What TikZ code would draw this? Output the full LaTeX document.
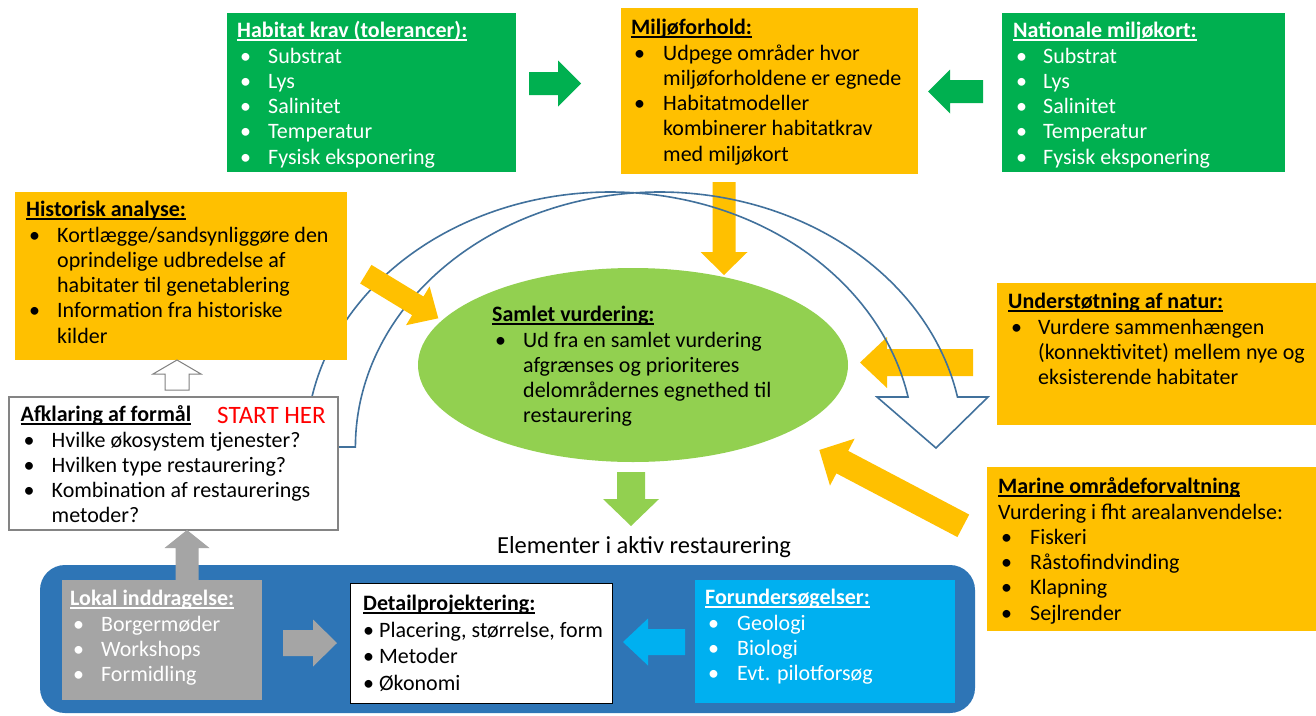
\documentclass[tikz,border=0pt]{standalone}
\usepackage{fontspec}
\setmainfont{Carlito}
\usetikzlibrary{calc,shapes.geometric}
\definecolor{cgreen}{HTML}{00B050}
\definecolor{corange}{HTML}{FFC000}
\definecolor{cellipse}{HTML}{92D050}
\definecolor{clblue}{HTML}{00B0F0}
\definecolor{cgray}{HTML}{A5A5A5}
\definecolor{cblue}{HTML}{2E75B6}
\definecolor{carc}{HTML}{41719C}
\definecolor{cred}{HTML}{FF0000}
\newcommand\hd[1]{\setbox0\hbox{\bfseries #1}\rlap{\rule[-2.8pt]{\wd0}{1.4pt}}\box0}
\newcommand\bi[2][31pt]{\makebox[#1][l]{\hspace{3pt}•}#2}
\newcommand\ct[2][31pt]{\hspace*{#1}#2}
\newcommand\fst{\rule{0pt}{16.5pt}}
% block arrow: name, tail, tip, shaft half width, head half width, head length, style
\newcommand\barrow[7]{%
  \coordinate (#1b) at ($(#3)!#6!(#2)$);
  \path[#7] ($(#2)!#4!90:(#3)$) -- ($(#1b)!#4!90:(#3)$) -- ($(#1b)!#5!90:(#3)$) -- (#3)
    -- ($(#1b)!#5!-90:(#3)$) -- ($(#1b)!#4!-90:(#3)$) -- ($(#2)!#4!-90:(#3)$) -- cycle;}
\tikzset{
  box/.style={anchor=north west, inner sep=0pt, outer sep=0pt},
  txt/.style={anchor=north west, inner sep=0pt, align=left, font=\fontsize{22}{25.3}\selectfont},
  wtxt/.style={txt, text=white},
  arcline/.style={draw=carc, line width=1.6pt, line join=miter},
}
\begin{document}
\begin{tikzpicture}[x=1pt,y=-1pt]
\useasboundingbox (0,0) rectangle (1316,715);
\fill[white] (0,0) rectangle (1316,715);

% ---------- top row ----------
\node[box, fill=cgreen, minimum width=289, minimum height=159] (hab) at (227,13) {};
\node[wtxt] (habt) at (237,21) {\fst\hd{Habitat krav (tolerancer):}\\
\bi{Substrat}\\ \bi{Lys}\\ \bi{Salinitet}\\ \bi{Temperatur}\\ \bi{Fysisk eksponering}};

\node[box, fill=corange, minimum width=297, minimum height=166] (milj) at (621,8) {};
\node[txt] (miljt) at (631,18) {\fst\hd{Miljøforhold:}\\
\bi[32pt]{Udpege områder hvor}\\ \ct[32pt]{miljøforholdene er egnede}\\
\bi[32pt]{Habitatmodeller}\\ \ct[32pt]{kombinerer habitatkrav}\\ \ct[32pt]{med miljøkort}};

\node[box, fill=cgreen, minimum width=283, minimum height=159] (nat) at (1002,13) {};
\node[wtxt] (natt) at (1013,21) {\fst\hd{Nationale miljøkort:}\\
\bi[30pt]{Substrat}\\ \bi[30pt]{Lys}\\ \bi[30pt]{Salinitet}\\ \bi[30pt]{Temperatur}\\ \bi[30pt]{Fysisk eksponering}};

\coordinate (g1t) at (529,83.5); \coordinate (g1h) at (581,83.5);
\barrow{g1}{g1t}{g1h}{11.5pt}{23pt}{23pt}{fill=cgreen}
\coordinate (g2t) at (983,91.5); \coordinate (g2h) at (928,91.5);
\barrow{g2}{g2t}{g2h}{11.5pt}{22pt}{22pt}{fill=cgreen}

% ---------- central ellipse ----------
\node[ellipse, fill=cellipse, minimum width=430, minimum height=194, inner sep=0pt] (samlet) at (633,365) {};
\node[txt] (samlett) at (492,305) {\fst\hd{Samlet vurdering:}\\
\bi{Ud fra en samlet vurdering}\\ \ct{afgrænses og prioriteres}\\ \ct{delområdernes egnethed til}\\ \ct{restaurering}};

% ---------- right boxes ----------
\node[box, fill=corange, minimum width=319, minimum height=142] (und) at (997,283) {};
\node[txt] (undt) at (1008,292) {\fst\hd{Understøtning af natur:}\\
\bi[30pt]{Vurdere sammenhængen}\\ \ct[30pt]{(konnektivitet) mellem nye og}\\ \ct[30pt]{eksisterende habitater}};

\node[box, fill=corange, minimum width=329, minimum height=164] (mar) at (987,467) {};
\node[txt] (mart) at (998,477) {\fst\hd{Marine områdeforvaltning}\\
Vurdering i fht arealanvendelse:\\
\bi[32pt]{Fiskeri}\\ \bi[32pt]{Råstofindvinding}\\ \bi[32pt]{Klapning}\\ \bi[32pt]{Sejlrender}};

% ---------- orange arrows into the ellipse ----------
\coordinate (o1t) at (724,182); \coordinate (o1h) at (724,275);
\barrow{o1}{o1t}{o1h}{11.5pt}{23.5pt}{23pt}{fill=corange}
\coordinate (o2t) at (973,362.5); \coordinate (o2h) at (860,362.5);
\barrow{o2}{o2t}{o2h}{13.5pt}{25.5pt}{27pt}{fill=corange}
\coordinate (o3t) at (963.3,525.8); \coordinate (o3h) at (819.3,450);
\barrow{o3}{o3t}{o3h}{12.7pt}{26.5pt}{26pt}{fill=corange}

% ---------- curved arrow ----------
\draw[arcline] plot[domain=180:348.7,samples=90,smooth] ({610+304*cos(\x)},{447+255*sin(\x)})
  -- (877,397) -- (936,448) -- (988,397) -- (958,397)
  -- plot[domain=348.7:180,samples=90,smooth] ({659.4+304*cos(\x)},{447+255*sin(\x)}) -- cycle;

% ---------- left boxes ----------
\node[box, fill=corange, minimum width=332, minimum height=168] (hist) at (15,192) {};
\node[txt] (histt) at (26,200) {\fst\hd{Historisk analyse:}\\
\bi{Kortlægge/sandsynliggøre den}\\ \ct{oprindelige udbredelse af}\\ \ct{habitater til genetablering}\\
\bi{Information fra historiske}\\ \ct{kilder}};

\coordinate (o4t) at (365.8,274.2); \coordinate (o4h) at (438.3,318.3);
\barrow{o4}{o4t}{o4h}{10.9pt}{22.7pt}{24pt}{fill=corange}

\node[box, fill=white, draw=cgray!80!black, line width=1.2pt, minimum width=329, minimum height=133] (afk) at (9,397) {};
\node[txt] (afkt) at (20.5,405) {\fst\hd{Afklaring af formål}\\
\bi{Hvilke økosystem tjenester?}\\ \bi{Hvilken type restaurering?}\\ \bi{Kombination af restaurerings}\\ \ct{metoder?}};
\node[anchor=base west, inner sep=0pt, text=cred, font=\fontsize{25}{28}\selectfont] (start) at (217,423) {START HER};

\coordinate (hut) at (177,390); \coordinate (huh) at (177,360);
\barrow{hu}{hut}{huh}{12pt}{24pt}{14pt}{fill=white, draw=gray, line width=1pt}

% ---------- bottom ----------
\node[anchor=base, inner sep=0pt, font=\fontsize{24.5}{28}\selectfont] (elem) at (644,553) {Elementer i aktiv restaurering};
\coordinate (gdt) at (631,472); \coordinate (gdh) at (631,526);
\barrow{gd}{gdt}{gdh}{14pt}{28pt}{27pt}{fill=cellipse}

\node[box, fill=cblue, rounded corners=25pt, minimum width=935, minimum height=148] (bluebg) at (40,565) {};

\coordinate (gut) at (187,580); \coordinate (guh) at (187,530);
\barrow{gu}{gut}{guh}{11.5pt}{22.5pt}{18pt}{fill=cgray}

\node[box, fill=cgray, minimum width=200, minimum height=120] (lok) at (62,580) {};
\node[wtxt] (lokt) at (70,589) {\fst\hd{Lokal inddragelse:}\\
\bi{Borgermøder}\\ \bi{Workshops}\\ \bi{Formidling}};

\node[box, fill=white, draw=black, line width=0.8pt, minimum width=262, minimum height=120] (det) at (350,583) {};
\node[txt, font=\fontsize{22}{26.5}\selectfont] (dett) at (363,594) {\fst\hd{Detailprojektering:}\\
• Placering, størrelse, form\\ • Metoder\\ • Økonomi};

\node[box, fill=clblue, minimum width=260, minimum height=123] (for) at (695,580) {};
\node[wtxt] (fort) at (705,588) {\fst\hd{Forundersøgelser:}\\
\bi[32pt]{Geologi}\\ \bi[32pt]{Biologi}\\ \bi[32pt]{Evt. pilotforsøg}};

\coordinate (grt) at (283,643); \coordinate (grh) at (337,643);
\barrow{gr}{grt}{grh}{13pt}{23.5pt}{24pt}{fill=cgray}
\coordinate (blt) at (685,642); \coordinate (blh) at (623,642);
\barrow{bl}{blt}{blh}{13pt}{23.5pt}{25pt}{fill=clblue}
\end{tikzpicture}
\end{document}
